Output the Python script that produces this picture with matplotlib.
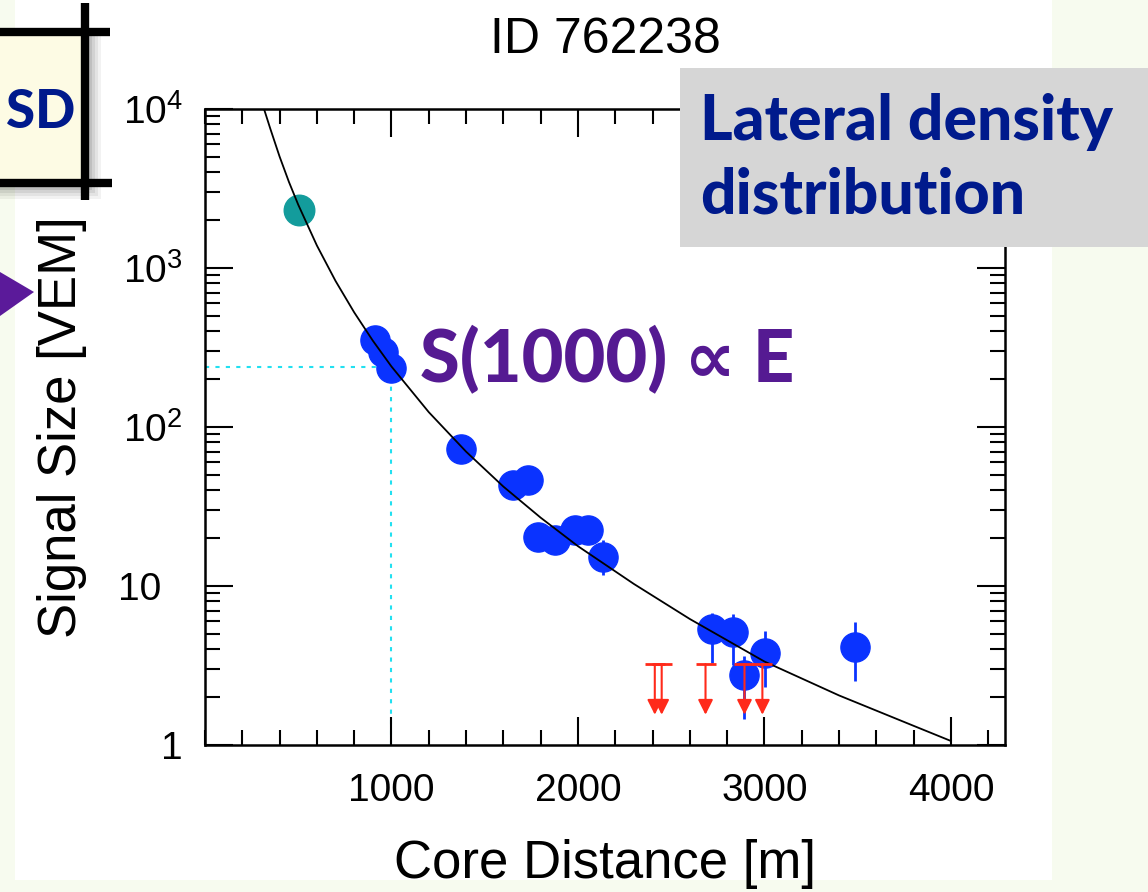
import matplotlib
matplotlib.use("Agg")
import matplotlib.pyplot as plt
from matplotlib.patches import Rectangle, Polygon

W, H = 1148, 892

# LDF fit curve (core distance [m], signal [VEM])
fit_r = [300, 350, 400, 450, 500, 600, 700, 800, 900, 1000, 1200, 1400, 1600,
         1800, 2000, 2300, 2600, 3000, 3400, 3800, 4000]
fit_s = [11500, 7530, 5020, 3480, 2500, 1385, 829, 526, 349, 240, 124, 70.0,
         42.2, 26.9, 17.8, 10.3, 6.2, 3.35, 2.05, 1.32, 1.06]

# stations
blue_r = [909, 957, 995, 1374, 1652, 1733, 1786, 1877, 1984, 2053, 2134,
          2717, 2829, 2893, 3005, 3487]
blue_s = [352, 296, 235, 72.7, 43.2, 46.4, 20.3, 19.5, 22.5, 22.5, 15.2,
          5.4, 5.1, 2.75, 3.8, 4.13]
blue_lo = [20, 18, 15, 6, 4, 4, 3, 3, 3, 3, 3.5, 2.1, 1.9, 1.3, 1.5, 1.6]
blue_hi = [20, 18, 15, 6, 4, 4, 3, 3, 3, 3, 4.3, 1.4, 1.6, 0.9, 1.4, 1.8]

sat_r = [503]
sat_s = [2317]

# upper limits (silent stations)
lim_r = [2412, 2449, 2684, 2893, 2989]
lim_top = 3.23
lim_tip = 1.55

s1000 = 238

xticks = [1000, 2000, 3000, 4000]
yticks = [1, 10, 100, 1000, 10000]
ytick_labels = ["1", "10  ", "10$^{2}$", "10$^{3}$", "10$^{4}$"]


def fx(x):
    return x / W


def fy(y):
    return 1 - y / H


plt.rcParams["font.family"] = ["Liberation Sans", "DejaVu Sans"]
plt.rcParams["mathtext.fontset"] = "custom"
plt.rcParams["mathtext.rm"] = "Liberation Sans"

fig = plt.figure(figsize=(W / 100, H / 100), dpi=100, facecolor="#f7fbef")
fig.patches.append(Rectangle((fx(15), fy(880)), fx(1052) - fx(15), fy(0) - fy(880),
                             transform=fig.transFigure, facecolor="white",
                             edgecolor="none", zorder=-1))

ax = fig.add_axes([fx(205), fy(745), fx(1005) - fx(205), fy(109) - fy(745)])
ax.set_yscale("log")
ax.set_xlim(0, 4290)
ax.set_ylim(1, 10000)

ax.plot([0, 1000], [s1000, s1000], color="#22e0f0", ls=(0, (2, 3)), lw=1.5, zorder=1)
ax.plot([1000, 1000], [1, s1000], color="#22e0f0", ls=(0, (2, 3)), lw=1.5, zorder=1)

ax.errorbar(blue_r, blue_s, yerr=[blue_lo, blue_hi], fmt="o", color="#0a33ff",
            ms=21, elinewidth=2, capsize=0, zorder=2)
ax.plot(sat_r, sat_s, "o", color="#139c9c", ms=22, zorder=2)
ax.plot(fit_r, fit_s, color="black", lw=1.3, zorder=3)

for r in lim_r:
    ax.annotate("", xy=(r, lim_tip), xytext=(r, lim_top),
                arrowprops=dict(arrowstyle="-|>,head_length=0.9,head_width=0.45",
                                color="#ff2a1a", lw=1.5, shrinkA=0, shrinkB=0),
                zorder=4)
    ax.plot([r], [lim_top], marker="_", color="#ff2a1a", ms=14, mew=2, zorder=4)

ax.set_xticks(xticks)
ax.set_yticks(yticks)
ax.set_yticklabels(ytick_labels)
ax.xaxis.set_minor_locator(matplotlib.ticker.MultipleLocator(200))
ax.tick_params(which="both", direction="in", top=True, right=True, width=1.5,
               labelsize=28)
ax.tick_params(which="major", length=20)
ax.tick_params(which="minor", length=10.5)
ax.tick_params(axis="x", pad=20)
ax.tick_params(axis="y", pad=16)
for sp in ax.spines.values():
    sp.set_linewidth(1.8)

ax.set_xlabel("Core Distance [m]", fontsize=38, labelpad=22)
ax.set_ylabel("Signal Size [VEM]", fontsize=38, labelpad=22)
ax.set_title("ID 762238", fontsize=36, pad=40)

hand = ["Lato", "DejaVu Sans"]
fig.text(fx(420), fy(382), "S(1000) \u221d E", fontsize=52, color="#551a92",
         weight="black", family=hand, va="baseline")

# grey label box
fig.patches.append(Rectangle((fx(680), fy(247)), fx(1148) - fx(680), fy(68) - fy(247),
                             transform=fig.transFigure, facecolor="#d6d6d6",
                             edgecolor="none", zorder=5))
fig.text(fx(700), fy(140), "Lateral density", fontsize=45, color="#001a8c",
         weight="black", family=hand, va="baseline", zorder=6)
fig.text(fx(700), fy(213), "distribution", fontsize=45, color="#001a8c",
         weight="black", family=hand, va="baseline", zorder=6)

# SD box with shadow
for i, a in enumerate([0.05, 0.06, 0.07, 0.09, 0.12]):
    d = 16 - 3 * i
    fig.patches.append(Rectangle((fx(0), fy(183 + d)), fx(85 + d), fy(32) - fy(183 + d),
                                 transform=fig.transFigure, facecolor="black",
                                 edgecolor="none", alpha=a, zorder=5))
fig.patches.append(Rectangle((fx(0), fy(183)), fx(85), fy(32) - fy(183),
                             transform=fig.transFigure, facecolor="#fdfbe4",
                             edgecolor="none", zorder=5))
for xs, ys in [([0, 110], [32, 32]), ([0, 112], [183, 183]), ([85, 85], [3, 200])]:
    fig.lines.append(plt.Line2D([fx(v) for v in xs], [fy(v) for v in ys],
                                transform=fig.transFigure, color="black", lw=6,
                                solid_capstyle="butt", zorder=6))
fig.text(fx(6), fy(128), "SD", fontsize=38, color="#001a8c", weight="black",
         family=hand, ha="left", va="baseline", zorder=6)

# purple pointer
fig.patches.append(Polygon([(fx(0), fy(272)), (fx(34), fy(292)), (fx(0), fy(316))],
                           closed=True, transform=fig.transFigure,
                           facecolor="#5b1a9a", edgecolor="none", zorder=5))

fig.savefig("out.png", dpi=100, facecolor=fig.get_facecolor())
